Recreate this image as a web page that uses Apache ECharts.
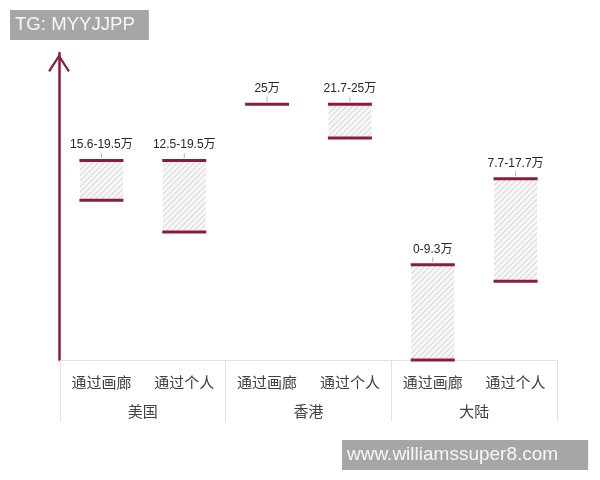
<!DOCTYPE html>
<html>
  <head>
    <meta charset="utf-8" />
    <title>价格区间</title>
    <script src="https://cdn.jsdelivr.net/npm/echarts@6/dist/echarts.min.js"></script>
    <style>
      html, body { margin: 0; padding: 0; background: #fff; }
      #main { width: 600px; height: 480px; }
    </style>
  </head>
  <body>
    <div id="main"></div>
    <script type="text/javascript">
      // 数据
      var channels = ["通过画廊", "通过个人", "通过画廊", "通过个人", "通过画廊", "通过个人"];
      var regions = ["美国", "香港", "大陆"];
      var lows = [15.6, 12.5, null, 21.7, 0, 7.7];
      var highs = [19.5, 19.5, 25, 25, 9.3, 17.7];
      var rangeLabels = ["15.6-19.5万", "12.5-19.5万", "25万", "21.7-25万", "0-9.3万", "7.7-17.7万"];

      var RED = "#8b1a3f";
      var FONT = "'Liberation Sans', 'Noto Sans CJK SC', sans-serif";
      var CJK = "'Noto Sans CJK SC', sans-serif";

      // 透明底座 + 区间
      var baseData = lows.map(function (v) { return v == null ? 0 : v; });
      var spanData = lows.map(function (v, i) { return v == null ? null : highs[i] - v; });
      var topPts = highs.map(function (v, i) { return [i, v]; });
      var lowPts = [];
      lows.forEach(function (v, i) { if (v != null) lowPts.push([i, v]); });

      var chart = echarts.init(document.getElementById("main"));

      var option = {
        animation: false,
        backgroundColor: "#fff",
        title: [
          {
            text: "TG: MYYJJPP",
            left: 10,
            top: 10,
            backgroundColor: "#a6a6a6",
            padding: [5, 14, 5, 5],
            textStyle: { color: "#f7f7f7", fontSize: 18.6, fontWeight: "normal", fontFamily: FONT, lineHeight: 20 },
          },
          {
            text: "www.williamssuper8.com",
            left: 342,
            top: 440,
            backgroundColor: "#a6a6a6",
            padding: [5, 30, 5, 5],
            textStyle: { color: "#f7f7f7", fontSize: 19, fontWeight: "normal", fontFamily: FONT, lineHeight: 20 },
          },
        ],
        grid: { left: 60, right: 43, top: 53, bottom: 120 },
        xAxis: [
          {
            type: "category",
            data: channels,
            position: "bottom",
            axisLine: { show: false },
            axisTick: { show: false },
            axisLabel: { interval: 0, margin: 15, fontSize: 15, color: "#404040", fontFamily: CJK },
          },
          {
            type: "category",
            data: regions,
            position: "bottom",
            axisLine: { show: true, lineStyle: { color: "#e3e3e3", width: 1 } },
            axisTick: { show: true, interval: 0, length: 62, lineStyle: { color: "#e3e3e3" } },
            axisLabel: { interval: 0, margin: 44, fontSize: 15, color: "#404040", fontFamily: CJK },
          },
        ],
        yAxis: {
          type: "value",
          min: 0,
          max: 30,
          offset: 1,
          splitLine: { show: false },
          axisTick: { show: false },
          axisLabel: { show: false },
          axisLine: {
            show: true,
            lineStyle: { color: RED, width: 2.5 },
            symbol: ["none", "path://M10,0 L20,15.5 L18.3,16.6 L10,3.6 L1.7,16.6 L0,15.5 Z"],
            symbolSize: [22, 18],
            symbolOffset: [0, -10],
          },
        },
        series: [
          {
            type: "bar",
            stack: "r",
            barWidth: 43,
            silent: true,
            itemStyle: { color: "transparent" },
            data: baseData,
          },
          {
            type: "bar",
            stack: "r",
            barWidth: 43,
            silent: true,
            itemStyle: {
              color: "#f8f8f8",
              decal: {
                symbol: "rect",
                symbolSize: 1,
                color: "#d6d6d6",
                dashArrayX: [1, 0],
                dashArrayY: [1, 2.5],
                rotation: -Math.PI / 4,
              },
            },
            data: spanData,
          },
          {
            // 上沿
            type: "scatter",
            symbol: "rect",
            symbolSize: [44, 3],
            itemStyle: { color: RED, opacity: 1 },
            z: 5,
            data: topPts,
          },
          {
            // 下沿
            type: "scatter",
            symbol: "rect",
            symbolSize: [44, 3],
            itemStyle: { color: RED, opacity: 1 },
            z: 5,
            data: lowPts,
          },
          {
            // 小引线 + 数值标签
            type: "scatter",
            symbol: "rect",
            symbolSize: [1, 5],
            symbolOffset: [0, -5],
            itemStyle: { color: "#b5b5b5", opacity: 1 },
            z: 4,
            label: {
              show: true,
              position: "top",
              distance: 2,
              fontSize: 12,
              color: "#262626",
              fontFamily: FONT,
              formatter: function (p) { return rangeLabels[p.dataIndex]; },
            },
            data: topPts,
          },
        ],
      };

      chart.setOption(option);
    </script>
  </body>
</html>
